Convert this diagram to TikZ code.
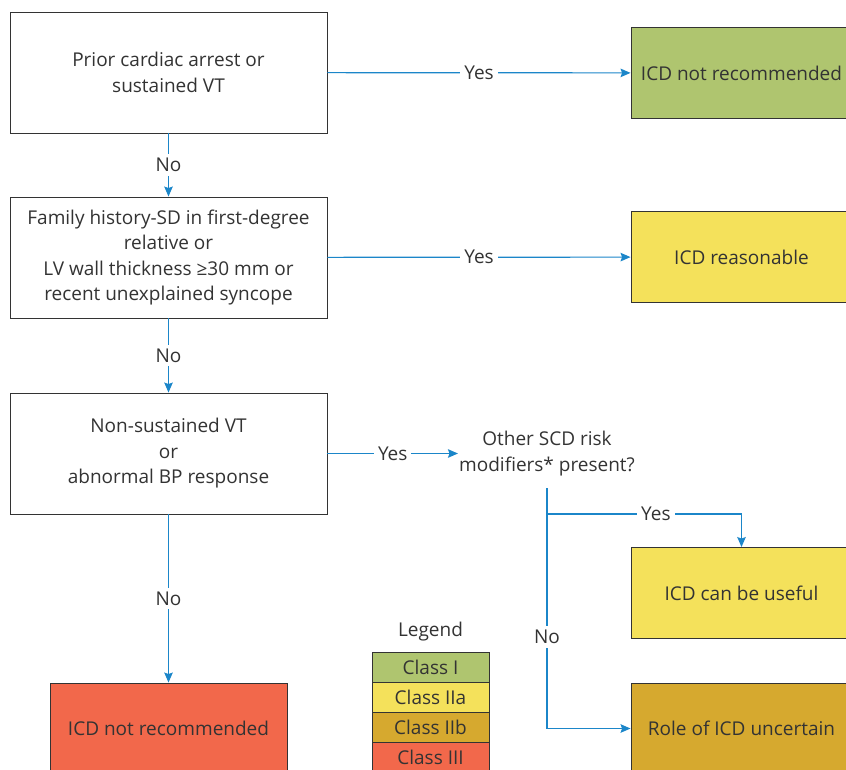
\documentclass[tikz,border=0pt]{standalone}
\usepackage{fontspec}
\setmainfont{Open Sans}
\usepackage{xcolor}
\usetikzlibrary{arrows.meta,positioning}
\definecolor{flowblue}{HTML}{1B86C9}
\definecolor{classI}{HTML}{AFC56F}
\definecolor{classIIa}{HTML}{F4E15B}
\definecolor{classIIb}{HTML}{D6A92F}
\definecolor{classIII}{HTML}{F2684B}
\definecolor{inkgray}{HTML}{333333}

\begin{document}
\begin{tikzpicture}[x=1pt,y=-1pt,
  every node/.style={text=inkgray,font=\fontsize{19}{25.5}\selectfont},
  box/.style={draw=inkgray,line width=0.9pt,fill=white,align=center,
    minimum width=317pt,minimum height=121pt,inner sep=0pt},
  outcome/.style={draw=inkgray,line width=0.9pt,align=center,
    minimum width=221pt,minimum height=91pt,inner sep=0pt},
  key/.style={draw=inkgray,line width=0.9pt,minimum width=117pt,
    minimum height=30pt,inner sep=0pt,outer sep=0pt},
  arrow/.style={-{Stealth[length=10pt,width=8.5pt,inset=1.5pt]},flowblue,line width=1.2pt},
  tag/.style={fill=white,inner sep=4pt},
]
  \useasboundingbox (0,0) rectangle (846,770);
  \clip (0,0) rectangle (846,770);

  % decision boxes
  \node[box] (prior) at (168.5,72.5) {Prior cardiac arrest or\\sustained VT};
  \node[box] (famhist) at (168.5,257.5)
    {Family history-SD in first-degree\\relative or\\LV wall thickness ≥30 mm or\\recent unexplained syncope};
  \node[box] (nsvt) at (168.5,453.5) {Non-sustained VT\\or\\abnormal BP response};
  \node[align=center,inner sep=1pt] (modifiers) at (547,453.5) {Other SCD risk\\modifiers* present?};

  % outcomes
  \node[outcome,fill=classI] (recommended) at (741.5,73) {ICD not recommended};
  \node[outcome,fill=classIIa] (reasonable) at (741.5,257) {ICD reasonable};
  \node[outcome,fill=classIIa] (useful) at (741.5,593) {ICD can be useful};
  \node[outcome,fill=classIIb] (uncertain) at (741.5,728.5) {Role of ICD uncertain};
  \node[outcome,fill=classIII,minimum width=237pt] (notrec) at (168.5,728.5) {ICD not recommended};

  % legend
  \node (legend) at (430.5,632) {Legend};
  \node[key,fill=classI] (keyI) at (430.5,667.5) {Class I};
  \node[key,fill=classIIa,below=0pt of keyI] (keyIIa) {Class IIa};
  \node[key,fill=classIIb,below=0pt of keyIIa] (keyIIb) {Class IIb};
  \node[key,fill=classIII,below=0pt of keyIIb] (keyIII) {Class III};

  % connectors
  \coordinate (split) at (547,488);
  \coordinate (fork) at (547,514);
  \draw[arrow] (prior) -- node[tag]{Yes} (recommended);
  \draw[arrow] (prior) -- node[tag]{No} (famhist);
  \draw[arrow] (famhist) -- node[tag]{Yes} (reasonable);
  \draw[arrow] (famhist) -- node[tag]{No} (nsvt);
  \draw[arrow] (nsvt) -- node[tag]{Yes} (modifiers);
  \draw[arrow] (nsvt) -- node[tag]{No} (notrec);
  \draw[arrow] (fork) -| node[tag,pos=0.28]{Yes} (useful);
  \draw[arrow] (split) |- node[tag,pos=0.31]{No} (uncertain);
\end{tikzpicture}
\end{document}
